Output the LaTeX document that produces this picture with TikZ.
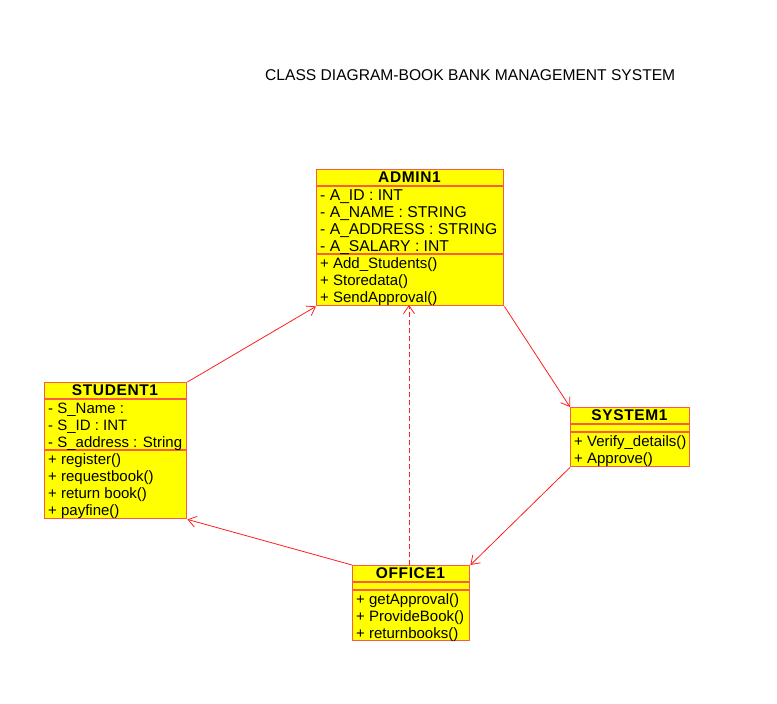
\documentclass[tikz,border=0pt]{standalone}
\usepackage{fontspec}
\setmainfont{Liberation Sans}
\usetikzlibrary{arrows.meta}
\definecolor{boxline}{RGB}{250,90,70}
\definecolor{boxfill}{RGB}{255,255,0}
\definecolor{conn}{RGB}{255,30,30}
\tikzset{
  classbox/.style={draw=boxline, fill=boxfill, line width=1.4pt, anchor=north west, inner sep=0pt},
  sepline/.style={draw=boxline, line width=1.4pt},
  ctitle/.style={font=\fontsize{15.5}{17}\selectfont\bfseries, anchor=center, inner sep=0pt, text height=11pt, text depth=3pt},
  crow/.style={font=\fontsize{15}{17}\selectfont, anchor=west, inner sep=0pt, text height=11pt, text depth=3pt},
  crowcaps/.style={crow, font=\fontsize{15.7}{17}\selectfont},
  assoc/.style={draw=conn, line width=0.8pt, -{Straight Barb[length=8pt,width=11pt]}},
  dep/.style={assoc, dashed, dash pattern=on 5pt off 3pt}
}
\begin{document}
\begin{tikzpicture}[x=1pt,y=-1pt]
\useasboundingbox (0,0) rectangle (777,704);
\node[font=\fontsize{15.6}{17}\selectfont, anchor=west, inner sep=0pt, text height=11pt, text depth=3pt] (title) at (265,76) {CLASS DIAGRAM-BOOK BANK MANAGEMENT SYSTEM};

% ADMIN1
\node[classbox, minimum width=187pt, minimum height=136pt] (admin) at (316,169) {};
\draw[sepline] (316,186) -- (503,186);
\draw[sepline] (316,254) -- (503,254);
\node[ctitle] (adminT) at (409.5,178) {\addfontfeature{LetterSpace=4}ADMIN1};
\node[crowcaps] (a1) at (320,196) {- A\_ID : INT};
\node[crowcaps] (a2) at (320,213) {- A\_NAME : STRING};
\node[crowcaps] (a3) at (320,230) {- A\_ADDRESS : STRING};
\node[crowcaps] (a4) at (320,247) {- A\_SALARY : INT};
\node[crow] (a5) at (320,264) {+ Add\_Students()};
\node[crow] (a6) at (320,281) {+ Storedata()};
\node[crow] (a7) at (320,298) {+ SendApproval()};

% STUDENT1
\node[classbox, minimum width=142pt, minimum height=136pt] (student) at (44,382) {};
\draw[sepline] (44,399) -- (186,399);
\draw[sepline] (44,450) -- (186,450);
\node[ctitle] (studentT) at (115,391) {\addfontfeature{LetterSpace=4}STUDENT1};
\node[crow] (s1) at (48,409) {- S\_Name :};
\node[crow] (s2) at (48,426) {- S\_ID : INT};
\node[crow] (s3) at (48,443) {- S\_address : String};
\node[crow] (s4) at (48,460) {+ register()};
\node[crow] (s5) at (48,477) {+ requestbook()};
\node[crow] (s6) at (48,494) {+ return book()};
\node[crow] (s7) at (48,511) {+ payfine()};

% SYSTEM1
\node[classbox, minimum width=119pt, minimum height=59pt] (system) at (570,407) {};
\draw[sepline] (570,424) -- (689,424);
\draw[sepline] (570,432) -- (689,432);
\node[ctitle] (systemT) at (629.5,416) {\addfontfeature{LetterSpace=4}SYSTEM1};
\node[crow] (y1) at (574,442) {+ Verify\_details()};
\node[crow] (y2) at (574,459) {+ Approve()};

% OFFICE1
\node[classbox, minimum width=117pt, minimum height=75pt] (office) at (352,565) {};
\draw[sepline] (352,582) -- (469,582);
\draw[sepline] (352,590) -- (469,590);
\node[ctitle] (officeT) at (410.5,574) {\addfontfeature{LetterSpace=4}OFFICE1};
\node[crow] (o1) at (356,600) {+ getApproval()};
\node[crow] (o2) at (356,617) {+ ProvideBook()};
\node[crow] (o3) at (356,634) {+ returnbooks()};

% connectors
\coordinate (depS) at (409,565);
\coordinate (depE) at (409,305);
\draw[assoc] (student.north east) -- (admin.south west);
\draw[assoc] (admin.south east) -- (system.north west);
\draw[assoc] (system.south west) -- (office.north east);
\draw[assoc] (office.north west) -- (student.south east);
\draw[dep, draw=conn] (depS) -- (depE);
\end{tikzpicture}
\end{document}
